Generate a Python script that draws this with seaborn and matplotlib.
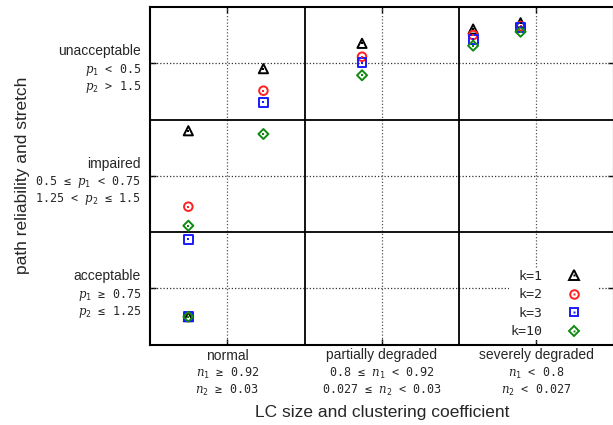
import matplotlib
matplotlib.use("Agg")
import matplotlib.pyplot as plt
import matplotlib.transforms as mtransforms
from matplotlib.lines import Line2D
import numpy as np
import pandas as pd
import seaborn as sns

# ---- data -------------------------------------------------------------
x_categories = ["normal", "partially degraded", "severely degraded"]
x_conditions = [
    [r"$n_1$ ≥ 0.92", r"$n_2$ ≥ 0.03"],
    [r"0.8 ≤ $n_1$ < 0.92", r"0.027 ≤ $n_2$ < 0.03"],
    [r"$n_1$ < 0.8", r"$n_2$ < 0.027"],
]
y_categories = ["acceptable", "impaired", "unacceptable"]
y_conditions = [
    [r"$p_1$ ≥ 0.75", r"$p_2$ ≤ 1.25"],
    [r"0.5 ≤ $p_1$ < 0.75", r"1.25 < $p_2$ ≤ 1.5"],
    [r"$p_1$ < 0.5", r"$p_2$ > 1.5"],
]

k_labels = ["k=1", "k=2", "k=3", "k=10"]
x_pos = [0.248, 0.248, 0.734, 1.372, 2.091, 2.398]
y_k1 = [0.247, 1.900, 2.452, 2.677, 2.804, 2.860]
y_k2 = [0.247, 1.225, 2.256, 2.558, 2.751, 2.830]
y_k3 = [0.247, 0.935, 2.153, 2.505, 2.713, 2.820]
y_k10 = [0.247, 1.056, 1.871, 2.393, 2.656, 2.780]

colors = ["black", "#ff2020", "#1a1aff", "#108a10"]
markers = ["^", "o", "s", "D"]
sizes = [44, 38, 40, 26]

df = pd.DataFrame({
    "x": x_pos * 4,
    "y": y_k1 + y_k2 + y_k3 + y_k10,
    "k": np.repeat(k_labels, len(x_pos)),
})

# ---- style ------------------------------------------------------------
sns.set_style("white")
plt.rcParams["font.family"] = ["Liberation Sans", "DejaVu Sans"]
plt.rcParams["mathtext.fontset"] = "custom"
plt.rcParams["mathtext.it"] = "DejaVu Serif:italic"
plt.rcParams["mathtext.rm"] = "DejaVu Sans Mono"
MONO = ["DejaVu Sans Mono"]

fig = plt.figure(figsize=(6.13, 4.25), dpi=100)
ax = fig.add_axes([150 / 613, 80.5 / 425, 463.6 / 613, 337.5 / 425])

# ---- points -----------------------------------------------------------
handles = []
for lab, col, mk, sz in zip(k_labels, colors, markers, sizes):
    sub = df[df["k"] == lab]
    sns.scatterplot(data=sub, x="x", y="y", marker=mk, s=sz,
                    facecolors="none", edgecolors=col, linewidths=1.4,
                    zorder=4, ax=ax, legend=False)
    sns.scatterplot(data=sub, x="x", y="y", marker="s", s=2.2,
                    color=col, edgecolors="none", linewidths=0,
                    zorder=5, ax=ax, legend=False)
    open_mk = Line2D([], [], ls="none", marker=mk, markersize=np.sqrt(sz),
                     markerfacecolor="none", markeredgecolor=col,
                     markeredgewidth=1.4)
    dot_mk = Line2D([], [], ls="none", marker="s", markersize=1.5,
                    markerfacecolor=col, markeredgecolor="none")
    handles.append((open_mk, dot_mk))

# ---- axes frame, grid and band separators ----------------------------
ax.set_xlim(0, 3)
ax.set_ylim(0, 3)
centers = [0.5, 1.5, 2.5]
ax.set_xticks(centers)
ax.set_yticks(centers)
ax.set_xticklabels([])
ax.set_yticklabels([])
ax.tick_params(direction="in", length=4, width=1.0, color="black",
               top=True, right=True, bottom=True, left=True)
for sp in ax.spines.values():
    sp.set_linewidth(1.5)
    sp.set_color("black")
    sp.set_zorder(3)

for c in centers:
    ax.axvline(c, color="#555555", lw=0.9, ls=(0, (1, 1.6)), zorder=1)
    ax.axhline(c, color="#333333", lw=0.9, ls=(0, (1, 1.6)), zorder=1)
for b in [1, 2]:
    ax.axvline(b, color="black", lw=1.3, zorder=2)
    ax.axhline(b, color="black", lw=1.3, zorder=2)

ax.set_xlabel("")
ax.set_ylabel("")

# ---- category labels --------------------------------------------------
xtr = mtransforms.blended_transform_factory(ax.transData, ax.transAxes)
for c, name, conds in zip(centers, x_categories, x_conditions):
    ax.annotate(name, xy=(c, 0), xycoords=xtr, xytext=(0, -11),
                textcoords="offset pixels", ha="center", va="center",
                fontsize=10)
    for i, t in enumerate(conds):
        ax.annotate(t, xy=(c, 0), xycoords=xtr, xytext=(0, -28.5 - 17.5 * i),
                    textcoords="offset pixels", ha="center", va="center",
                    fontsize=8.5, family=MONO)

ytr = mtransforms.blended_transform_factory(ax.transAxes, ax.transData)
for c, name, conds in zip(centers, y_categories, y_conditions):
    ax.annotate(name, xy=(0, c), xycoords=ytr, xytext=(-9, 12),
                textcoords="offset pixels", ha="right", va="center",
                fontsize=10)
    for i, t in enumerate(conds):
        ax.annotate(t, xy=(0, c), xycoords=ytr, xytext=(-9, -6.5 - 17 * i),
                    textcoords="offset pixels", ha="right", va="center",
                    fontsize=8.5, family=MONO)

fig.text(381.7 / 613, 1 - 412.7 / 425, "LC size and clustering coefficient",
         ha="center", va="center", fontsize=12.5)
fig.text(23 / 613, 1 - 175 / 425, "path reliability and stretch",
         ha="center", va="center", rotation=90, fontsize=12.5)

# ---- legend -----------------------------------------------------------
leg = ax.legend(handles, k_labels, loc="lower right",
                bbox_to_anchor=(0.9825, -0.005), markerfirst=False,
                frameon=True, framealpha=1, facecolor="white",
                edgecolor="none", fancybox=False, borderpad=0.1,
                handlelength=3.5, handletextpad=0.7, labelspacing=0.42,
                prop={"family": MONO, "size": 9.5})
for t in leg.get_texts():
    t.set_ha("right")
leg.set_zorder(2.5)

fig.savefig("out.png", dpi=100)
